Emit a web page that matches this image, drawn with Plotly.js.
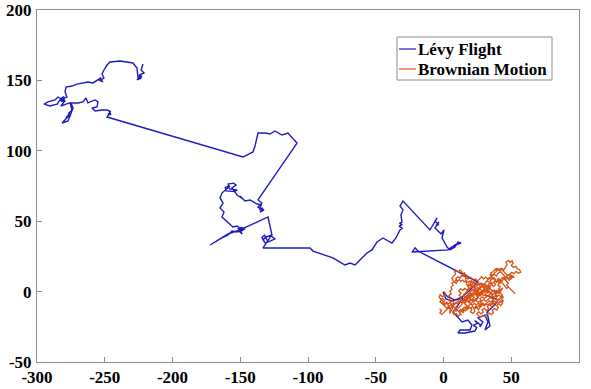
<!DOCTYPE html>
<html>
<head>
<meta charset="utf-8">
<script src="https://cdn.plot.ly/plotly-3.0.1.min.js"></script>
<style>html,body{margin:0;padding:0;background:#fff;}#chart{width:591px;height:389px;}</style>
</head>
<body>
<div id="chart"></div>
<script>
// Lévy flight path (data coordinates)
const levyX = [-221.8,-223.2,-221,-224.7,-222.5,-225,-223.2,-226.2,-224,-223,-225.5,-226.2,-229.2,-232.8,-238.7,-246.1,-248.3,-250.6,-252,-250.6,-252.8,-251.3,-254.2,-252.5,-258.7,-262.4,-266.1,-270.5,-274.2,-278.6,-279.3,-277.9,-280.8,-281,-279.5,-282,-280,-283,-279,-284.5,-286.7,-291.9,-294.8,-290.4,-285.2,-283,-280.1,-282.3,-278.6,-275.6,-274.2,-276.4,-275,-277,-275.8,-277.5,-278.6,-276.8,-281.5,-277.1,-275.6,-273.4,-274.9,-269.7,-266.1,-263.8,-262.4,-257.2,-255,-255.7,-259.4,-257.2,-252,-248.3,-245.4,-247,-245.5,-247.6,-246,-248.3,
-148,-144.3,-140.6,-139.1,-136.9,-131.7,-128,-124.4,-119.2,-114.8,-108.1,
-136.9,-134,-136.9,-132.5,-135.4,-133.5,-136,-134.5,-137.6,-142.8,-146.5,-150.2,-148,-152.4,
-156.1,-153.1,-155,-159,-158,-152.4,-154,-160.5,-161,-157.6,-163.5,
-164.9,-162.7,-164.9,-162,-163.5,-159,-155.4,-152.4,-148,-150.2,-148.5,-151.5,-149,-146.5,
-152.4,-156.1,-159,-163.5,-168.6,-172.3,-167.9,-159,-150.2,
-129.5,-126.6,-131,-133.2,-131.5,-134,-132,-129.5,-124.4,-127.3,-133.2,
-98.5,-96.3,-89.7,-81.6,-76.4,-72.7,-69,-65.3,-63.1,-60.1,-56.5,-52.8,-49.1,-44.7,-41.7,-38,-35.1,-32.1,-30.5,-32.8,-30.4,-32.5,-30.6,-31.4,-29.9,-32.1,-29.9,
-10,-7.8,-4.8,-6,-3.8,-5.5,-3.3,-6.3,-1.8,0.4,-1.1,2.6,4.8,8.5,10.7,12.9,8.5,3.3,
-23.2,-21,-18.8,
25.5,19.6,13.7,8.5,3.3,-0.4,1.8,6.3,14.4,7,10.7,13.7,18,21,19.6,12.2,10.7,15.9,23.2,24.5,22,25,23,27,26.9,29.1,25.5,30.6,32.8,30.6,34.3,32.1,38,40.2,36.5,30.6];
const levyY = [161.6,157.4,155.3,153.8,152.8,152.2,151.7,150.3,153.1,151.5,152.2,158.8,162.4,163.1,163.8,163.1,160.9,157.4,154.5,151.7,150.3,148.9,150.3,152,148.2,148.9,148.2,147.4,146,145.3,141.8,138.2,136.8,137.5,135.5,135,138.5,136.8,135.2,138.2,136.1,134.7,133.2,131.8,133.2,136.1,134.7,131.8,133.2,134,129,126.8,125.4,126,123.8,124.8,123.3,124.5,119.7,121.2,124.7,130.4,134,134,134.7,137.5,134,136.1,134.7,131.1,130.4,128.3,129,129,127.6,128.5,125.8,126.1,127.2,124,
95.6,97.7,99.2,103.4,112.6,112.6,111.9,114.1,111.2,112.6,105.5,
65.1,62.9,60.1,58,56.5,59.5,58.5,61.5,62.2,65.1,64.4,67.9,65.8,68.6,
73.6,75.7,77,76.4,73,72.2,71,71.5,74,75,70,
66.5,62.9,59.4,56.5,53,49.4,45.9,46.6,43.8,42.3,41,44.8,45.5,44.5,
42.3,43,40.2,38.1,35.2,33.1,35.9,40.9,43.8,
53,40.2,38.8,36.7,34.5,38.5,40,35.2,37.4,39.5,31,
31,28.8,26.7,23.9,21,18.9,20.3,18.9,21,23.9,27.4,29.6,35.2,38.1,36.7,34.5,38.1,43.8,45,46.5,47.5,48.5,49.4,54.4,58,60.8,64.3,
43.8,47.3,52.3,50,47.5,46.8,49.4,45.2,40.9,43.8,38.1,31.7,29.6,31.7,35.2,34.5,33.1,29.6,
28.1,31,28.8,
6.8,1.1,-3.8,-6,-3.8,-0.3,-5.2,-6.7,-4.5,-14.5,-18.7,-21.6,-20.2,-23.7,-27.3,-27.3,-29.4,-29.4,-28,-25.5,-24,-22.5,-20.5,-23.5,-25.1,-21.6,-18.7,-16.6,-21.6,-27.3,-24.4,-14.5,-9.4,-6,-4.5,-2.4];

// Brownian motion path (data coordinates)
const brownX = [0,1.5,0.8,-1.0,-2.4,-3.2,-2.0,-0.5,0.9,-0.4,1.2,2.8,3.5,5.1,4.6,6.0,7.3,6.1,7.8,6.5,5.0,3.9,5.4,4.0,5.7,4.6,6.2,5.5,7.1,6.3,8.0,9.4,10.2,9.1,10.8,12.5,13.1,14.9,15.6,17.2,16.5,18.3,19.9,21.3,20.4,22.0,20.7,19.0,17.6,18.9,17.4,15.8,14.3,12.6,11.2,12.9,11.5,13.3,12.1,13.9,15.4,16.8,15.5,17.2,16.0,17.8,19.3,20.9,19.8,21.6,23.1,22.4,24.2,25.8,27.1,26.2,28.0,27.0,25.3,23.9,22.2,21.0,22.6,21.3,23.0,24.6,26.3,25.4,27.2,28.8,30.1,29.2,31.0,32.6,33.4,35.2,34.5,36.3,35.6,37.4,39.1,40.0,41.8,41.0,42.7,44.5,45.4,46.8,46.1,47.9,49.2,50.6,51.4,50.0,51.7,53.4,54.3,56.1,57.0,55.2,53.6,52.1,50.3,48.8,49.9,48.2,46.4,45.1,43.4,42.2,40.5,39.6,41.3,40.1,41.9,40.6,42.4,41.2,39.5,38.2,39.8,38.6,40.3,39.0,37.3,35.9,37.2,35.5,34.1,32.4,33.3,31.6,30.2,28.5,29.3,27.6,26.1,24.6,25.8,27.5,29.1,30.8,32.0,33.7,35.2,36.8,36.0,37.7,39.4,40.5,39.2,40.9,42.3,43.6,42.5,41.1,42.8,43.4,41.7,40.0,38.3,36.6,35.0,33.6,31.9,30.4,31.7,30.0,28.4,26.9,28.2,29.8,31.3,32.9,34.4,33.1,34.8,36.4,35.1,36.7,35.4,33.8,32.2,30.6,29.0,27.4,25.9,24.3,22.8,21.2,19.7,18.5,20.1,19.0,20.6,19.5,21.1,22.8,24.2,25.9,27.4,26.0,27.7,29.3,30.9,32.3,33.9,35.5,37.0,38.5,37.2,38.7,37.3,35.7,34.2,32.6,31.1,29.5,28.0,26.6,25.0,23.6,22.1,23.5,24.9,23.4,21.9,20.3,18.9,17.3,16.1,14.6,15.9,17.5,18.7,17.3,18.6,20.2,
21.4,22.7,23.5,24.9,25.6,24.4,25.8,27.1,28.3,27.5,28.9,30.2,31.0,32.4,33.1,34.5,33.8,32.3,31.5,30.0,29.1,27.8,26.6,25.2,24.0,22.7,21.5,20.1,19.3,17.9,16.6,15.3,14.1,12.8,11.6,10.5,9.2,8.1,7.0,6.2,7.6,9.0,8.2,9.8,11.2,12.0,13.5,14.3,15.8,14.6,16.2,17.0,18.2,19.6,20.8,22.1,23.3,22.0,23.4,24.8,26.0,27.3,28.6,29.5,30.9,32.2,33.5,34.8,36.1,37.4,38.1,39.5,40.8,42.0,43.3,44.1,43.0,44.2,42.9,41.6,40.3,39.1,37.9,36.6,35.4,34.0,32.8,31.5,30.2,28.9,27.7,26.4,25.1,23.9,22.6,21.3,20.1,18.8,17.5,16.4,15.1,13.9,12.6,11.4,10.1,8.9,9.8,8.5,7.2,6.0,4.9,3.6,2.4,1.1,-0.2,-1.5,-2.7,-1.4,-2.6,-1.3,0.1,1.4,2.7,3.9,5.2,6.5,7.7,9.0,10.2,11.5,12.7,14.0,15.2,16.5,17.8,19.0,20.3,21.5,22.8,24.0,25.3,26.5,27.8,29.0,30.3,31.5,32.8,34.0,35.3,36.5,37.8,39.0,40.3,41.5,42.8,44.0,45.3,44.1,45.4,46.6,47.9,46.7,48.0,49.2,50.5,51.7,52.9,51.6,50.4,49.1,47.9,46.6,45.4,44.1,42.9,41.6,40.4,39.1,37.9,36.6,35.4,
34.2,35.8,34.9,36.6,38.1,39.4,38.2,39.9,41.5,42.8,44.6,45.3,47.1,46.3,47.9,49.7,50.4,52.2,51.5,49.8,48.6,47.0,45.6,44.1,43.2,41.5,42.3,40.6,39.2,38.0,36.4,35.1,33.5,32.7,31.0,29.6,28.2,26.7,25.9,24.3,22.9,21.2,19.8,18.1,17.4,15.8,16.6,15.0,13.6,12.1,10.9,9.3,8.6,7.0,8.1,6.6,7.9,9.6,10.8,9.4,10.9,12.6,13.3,11.7,12.9,14.7,15.2,13.8,15.4,17.1,18.2,19.9,21.3,22.8,24.1,25.4,26.9,27.8,29.5,31.2,32.6,34.4,35.8,37.4,38.9,37.6,39.0,40.8,42.0,41.4,43.0,42.2,43.8,42.5,40.9,39.3,38.1,36.3,35.5,33.8,32.6,30.8,29.5,27.9,26.4,24.8,23.1,22.4,20.6,19.3,17.6,16.5,14.8,13.5,11.9,
10.4,9.1,7.5,6.3,4.7,3.5,1.9,0.6,-1.2,-2.6,-1.5,-3.0,-1.8,-0.1,1.0,2.6,3.4,2.1,3.7,5.4,6.2,4.9,6.5,8.0,8.9,10.5];
const brownY = [0,-1.2,-2.9,-3.5,-2.2,-4.0,-5.6,-4.8,-6.3,-7.9,-9.1,-8.0,-10.2,-11.5,-15.5,-13.4,-10.8,-9.2,-8.1,-6.6,-7.4,-5.8,-4.3,-2.9,-1.6,0.2,1.5,3.2,4.4,6.1,7.0,5.8,7.6,9.3,10.5,9.6,11.4,10.8,12.5,11.6,9.8,9.0,10.2,9.1,7.3,6.1,4.6,5.5,4.1,2.6,1.2,2.3,0.9,1.9,0.4,-1.1,-2.7,-3.9,-5.5,-6.6,-5.3,-6.9,-8.6,-9.8,-11.5,-12.6,-11.2,-12.7,-14.4,-15.5,-14.1,-12.3,-11.4,-12.9,-11.3,-9.6,-8.5,-6.8,-7.7,-6.1,-7.2,-5.5,-4.0,-2.4,-1.1,-2.5,-1.2,0.6,1.7,0.4,2.0,3.8,4.9,3.6,5.4,6.3,8.1,9.2,11.0,12.1,11.0,12.8,13.9,15.7,16.6,15.5,17.3,19.0,20.8,22.2,20.7,22.0,20.1,18.6,17.2,18.1,16.4,15.6,13.8,13.0,14.3,12.8,13.7,12.2,10.5,9.4,10.6,9.0,10.1,8.4,9.3,7.5,6.3,4.6,3.3,1.7,0.5,-1.2,-0.2,-1.8,-3.1,-4.8,-6.0,-7.6,-6.5,-8.1,-9.7,-10.8,-9.2,-10.5,-12.3,-13.5,-11.9,-12.8,-14.6,-15.8,-14.3,-15.7,-17.2,-18.1,-16.9,-17.8,-16.2,-15.1,-16.4,-15.0,-13.3,-12.1,-13.0,-11.3,-9.8,-8.6,-10.1,-8.5,-6.8,-5.2,-4.0,-2.2,-1.0,0.3,-0.8,0.4,-0.9,0.6,-0.5,-2.1,-3.6,-4.9,-3.7,-5.2,-6.7,-5.6,-7.0,-5.7,-4.3,-2.7,-1.5,-2.9,-4.5,-5.8,-7.4,-6.6,-8.2,-9.4,-8.1,-9.5,-8.2,-9.6,-8.3,-9.7,-8.4,-6.7,-5.3,-3.6,-2.2,-0.5,0.9,2.0,0.5,1.8,3.3,4.8,6.0,4.7,6.1,7.7,6.5,5.0,3.6,5.1,6.8,8.3,9.9,8.7,10.1,8.9,10.3,9.1,10.5,8.9,7.6,9.0,7.6,6.0,4.4,3.0,4.3,3.1,1.6,0.3,-1.4,-2.7,-4.2,-3.0,-4.6,-6.1,-7.7,-6.6,
-5.4,-6.3,-4.9,-5.6,-4.2,-3.1,-2.2,-3.0,-1.8,-0.5,0.6,-0.3,1.1,0.3,1.8,2.6,4.0,3.3,4.7,4.0,5.5,4.6,5.9,5.1,6.4,5.4,6.8,6.0,7.4,6.6,7.9,6.9,8.2,7.3,8.6,7.4,8.3,6.9,8.0,9.8,11.2,12.6,14.1,14.9,13.8,15.3,14.2,12.8,13.6,11.9,10.4,5.2,3.8,4.5,3.0,3.7,2.2,0.9,-0.4,0.3,-1.0,-0.2,-1.5,-3.0,-2.2,-3.4,-2.6,-3.9,-3.1,-4.4,-2.9,-3.6,-2.4,-3.5,-2.6,-4.1,-5.4,-6.7,-7.8,-7.0,-8.2,-7.3,-8.6,-7.8,-9.1,-8.3,-9.6,-8.8,-10.1,-9.2,-10.6,-9.9,-11.2,-10.3,-11.6,-10.7,-12.0,-11.0,-12.3,-13.6,-12.4,-13.8,-12.7,-14.1,-12.9,-14.3,-13.0,-11.6,-10.3,-9.1,-7.8,-8.9,-7.5,-8.6,-7.2,-5.9,-4.6,-5.8,-7.1,-8.2,-9.4,-10.6,-11.8,-10.5,-9.4,-10.8,-9.6,-8.3,-7.1,-6.0,-4.8,-5.9,-4.6,-3.4,-2.1,-0.9,-2.0,-0.8,0.5,1.7,3.0,2.0,3.3,4.5,5.8,7.0,8.3,9.5,10.8,12.0,13.3,14.5,15.8,14.6,13.3,12.1,10.8,9.6,8.4,7.1,5.9,4.6,3.4,2.1,0.9,-0.4,-1.6,
-0.4,0.9,2.5,3.4,2.2,3.9,5.6,6.8,5.9,7.5,6.8,8.6,9.1,10.9,12.3,11.5,13.4,14.1,15.9,16.6,15.1,16.3,14.8,15.9,14.1,13.2,11.4,10.5,12.0,10.3,11.5,9.9,10.8,9.0,8.2,9.6,8.1,9.2,7.4,8.5,7.0,8.1,6.6,7.7,5.9,5.0,3.2,2.1,3.5,2.4,3.9,2.8,1.0,0.1,-1.5,-2.8,-4.3,-3.5,-5.1,-6.6,-8.0,-7.2,-9.0,-10.2,-11.8,-11.0,-12.9,-14.3,-15.6,-14.8,-16.4,-15.7,-17.1,-16.0,-17.5,-16.0,-16.8,-15.0,-14.1,-14.9,-13.4,-12.8,-11.2,-11.9,-10.4,-8.9,-7.4,-6.9,-5.3,-3.5,-2.4,-0.7,0.4,2.0,1.3,2.1,0.6,1.2,-0.5,-0.9,0.7,0.1,1.6,0.8,2.3,1.5,2.6,0.9,0.2,-1.3,-0.6,-2.2,-1.4,-0.2,-1.0,
0.5,-0.9,-0.2,-1.6,-0.8,-2.3,-1.6,-3.0,-2.1,-3.6,-5.2,-6.4,-7.9,-7.0,-8.6,-7.8,-9.6,-11.0,-12.3,-11.6,-13.4,-14.9,-16.2,-15.1,-13.3,-12.4];

const seriesNames = ['Lévy Flight', 'Brownian Motion'];
const seriesColors = ['#1c1cc0', '#d95319'];
const xTickVals = [-300,-250,-200,-150,-100,-50,0,50,100];
const xTickText = ['-300','-250','-200','-150','-100','-50','0','50','100'];
const yTickVals = [-50,0,50,100,150,200];
const yTickText = ['-50','0','50','100','150','200'];

const W = 591, H = 389;
const M = {l: 37, r: 12, t: 10, b: 27};
const pw = W - M.l - M.r, ph = H - M.t - M.b;
const px = v => (v - M.l) / pw;
const py = v => (H - M.b - v) / ph;

const FONT = 'Liberation Serif';
const bold = s => '<b>' + s + '</b>';

const traces = [
  {x: levyX, y: levyY, type: 'scatter', mode: 'lines', name: seriesNames[0],
   line: {color: seriesColors[0], width: 1.4}},
  {x: brownX, y: brownY, type: 'scatter', mode: 'lines', name: seriesNames[1],
   line: {color: seriesColors[1], width: 1.3}}
];

const axisCommon = {
  showgrid: false, zeroline: false, showline: true, mirror: true,
  linecolor: '#8c8c8c', linewidth: 1,
  ticks: 'inside', ticklen: 5, tickcolor: '#8c8c8c', tickwidth: 1,
  tickfont: {family: FONT, size: 17, color: '#000'},
  tickmode: 'array', fixedrange: true
};

const layout = {
  width: W, height: H,
  margin: M,
  paper_bgcolor: '#fff', plot_bgcolor: '#fff',
  showlegend: false,
  font: {family: FONT},
  xaxis: Object.assign({}, axisCommon, {range: [-300, 100], tickvals: xTickVals, ticktext: xTickText.map(bold)}),
  yaxis: Object.assign({}, axisCommon, {range: [-50, 200], tickvals: yTickVals, ticktext: yTickText.map(bold), ticklabelstandoff: 1}),
  shapes: [
    {type: 'rect', xref: 'paper', yref: 'paper', x0: px(397), x1: px(552), y0: py(80), y1: py(37),
     line: {color: '#8c8c8c', width: 1}, fillcolor: '#fff', layer: 'above'},
    {type: 'line', xref: 'paper', yref: 'paper', x0: px(399), x1: px(416), y0: py(49), y1: py(49),
     line: {color: seriesColors[0], width: 1.2}, layer: 'above'},
    {type: 'line', xref: 'paper', yref: 'paper', x0: px(399), x1: px(416), y0: py(69), y1: py(69),
     line: {color: seriesColors[1], width: 1.2}, layer: 'above'}
  ],
  annotations: seriesNames.map((n, i) => ({
    xref: 'paper', yref: 'paper', x: px(416), y: py(i === 0 ? 49 : 69),
    xanchor: 'left', yanchor: 'middle', showarrow: false, text: bold(n),
    font: {family: FONT, size: 17, color: '#000'}
  }))
};

Plotly.newPlot('chart', traces, layout, {displayModeBar: false, staticPlot: true});
</script>
</body>
</html>
